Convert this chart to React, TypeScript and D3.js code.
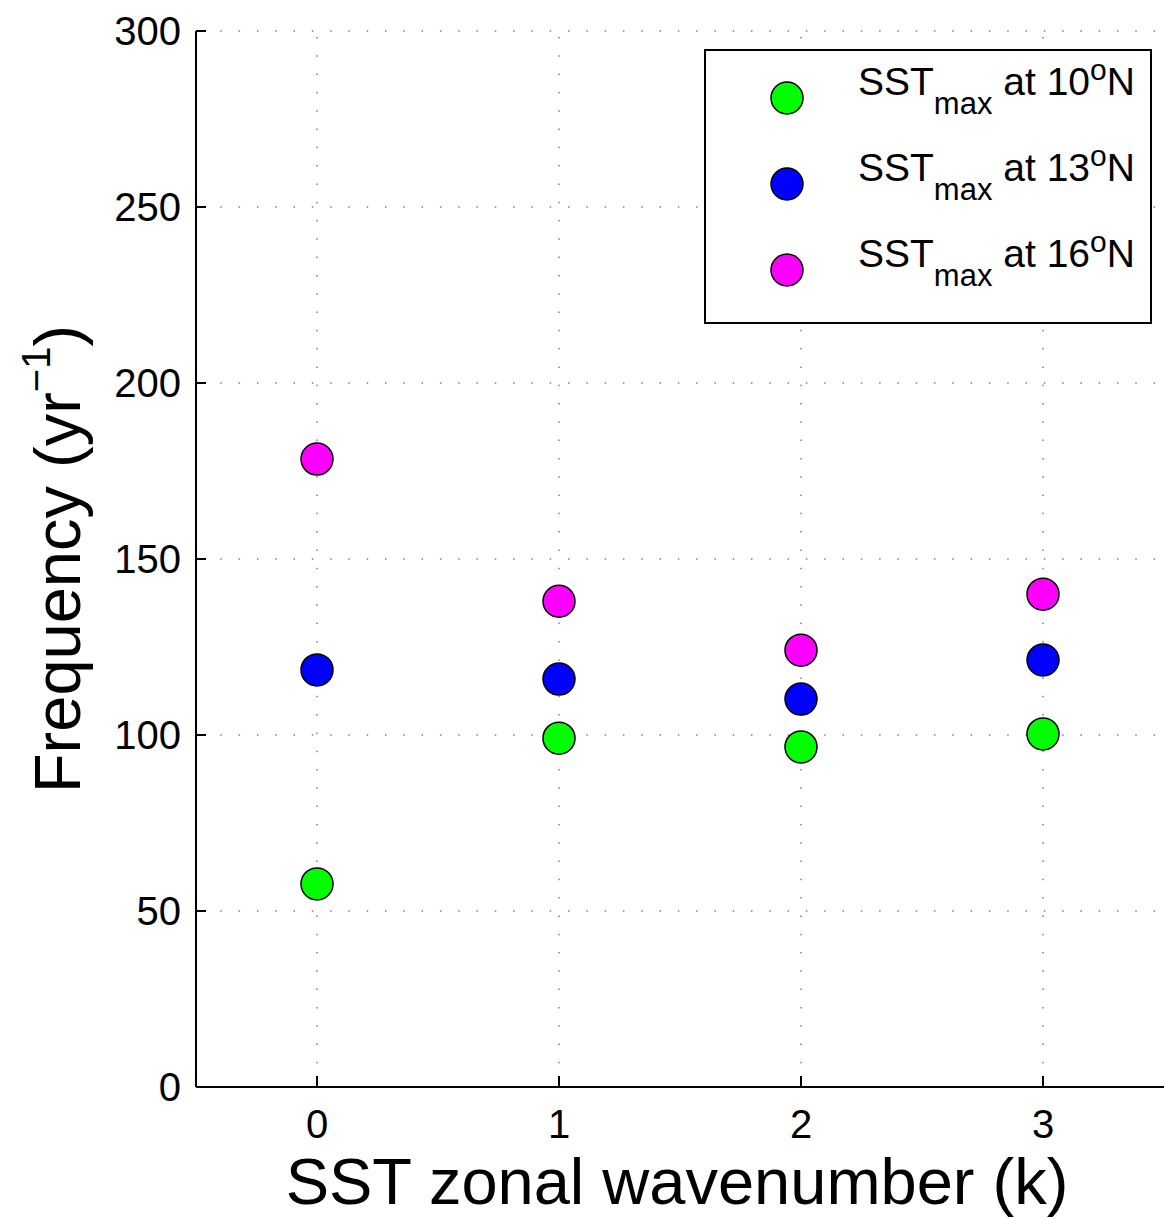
import React from "react";
import * as d3 from "d3";

const wavenumbers = [0, 1, 2, 3];
const sst10N = [57.7, 99.1, 96.6, 100.3];
const sst13N = [118.5, 115.9, 110.2, 121.3];
const sst16N = [178.4, 138, 124.1, 140];
const seriesLabels = ["10", "13", "16"];
const seriesColors = ["#00ff00", "#0000ff", "#ff00ff"];
const yTicks = [0, 50, 100, 150, 200, 250, 300];

const W = 1165;
const H = 1219;
const left = 196;
const right = 1164;
const top = 31;
const bottom = 1087;
const FONT = "'Liberation Sans', Arial, Helvetica, sans-serif";

export default function App() {
  const x = d3.scaleLinear().domain([-0.5, 3.5]).range([left, right]);
  const y = d3.scaleLinear().domain([0, 300]).range([bottom, top]);
  const series = [sst10N, sst13N, sst16N];
  const gridStyle = { stroke: "#808080", strokeWidth: 1.5, strokeDasharray: "1.5 16.8" };

  return (
    <svg
      width={W}
      height={H}
      style={{ position: "absolute", left: 0, top: 0, background: "#fff" }}
      fontFamily={FONT}
    >
      <rect x={0} y={0} width={W} height={H} fill="#fff" />
      {/* grid */}
      {yTicks.map((t) => (
        <line key={"gy" + t} x1={left + 6} x2={right} y1={y(t)} y2={y(t)} style={gridStyle} />
      ))}
      {wavenumbers.map((k) => (
        <line key={"gx" + k} x1={x(k)} x2={x(k)} y1={top + 6} y2={bottom} style={gridStyle} />
      ))}
      {/* axes */}
      <line x1={left} x2={left} y1={top} y2={bottom} stroke="#000" strokeWidth={2} />
      <line x1={left} x2={right} y1={bottom} y2={bottom} stroke="#000" strokeWidth={2} />
      {yTicks.map((t) => (
        <g key={"ty" + t}>
          <line x1={left} x2={left + 10} y1={y(t)} y2={y(t)} stroke="#000" strokeWidth={2} />
          <text x={181} y={y(t) + 14} textAnchor="end" fontSize={40} fill="#000">
            {t}
          </text>
        </g>
      ))}
      {wavenumbers.map((k) => (
        <g key={"tx" + k}>
          <line x1={x(k)} x2={x(k)} y1={bottom} y2={bottom - 11} stroke="#000" strokeWidth={2} />
          <text x={x(k)} y={1138} textAnchor="middle" fontSize={40} fill="#000">
            {k}
          </text>
        </g>
      ))}
      {/* axis labels */}
      <text x={677} y={1204} textAnchor="middle" fontSize={65} fill="#000">
        SST zonal wavenumber (k)
      </text>
      <text
        transform={`translate(80, ${559}) rotate(-90)`}
        textAnchor="middle"
        fontSize={65}
        fill="#000"
      >
        Frequency (yr
        <tspan fontSize={40} dy={-30}>−1</tspan>
        <tspan dy={30}>)</tspan>
      </text>
      {/* points */}
      {series.map((vals, si) =>
        vals.map((v, i) => (
          <circle
            key={`p${si}-${i}`}
            cx={x(wavenumbers[i])}
            cy={y(v)}
            r={16}
            fill={seriesColors[si]}
            stroke="#000"
            strokeWidth={1.5}
          />
        ))
      )}
      {/* legend */}
      <rect x={705} y={50} width={446} height={273} fill="#fff" stroke="#000" strokeWidth={2} />
      {seriesLabels.map((lab, i) => {
        const cy = 98 + i * 86;
        return (
          <g key={"lg" + i}>
            <circle cx={787} cy={cy} r={16} fill={seriesColors[i]} stroke="#000" strokeWidth={1.5} />
            <text x={858} y={cy - 3} fontSize={39} fill="#000">
              SST
              <tspan fontSize={31} dy={19}>max</tspan>
              <tspan dy={-19}> at {lab}</tspan>
              <tspan fontSize={30} dy={-15}>o</tspan>
              <tspan dy={15}>N</tspan>
            </text>
          </g>
        );
      })}
    </svg>
  );
}
